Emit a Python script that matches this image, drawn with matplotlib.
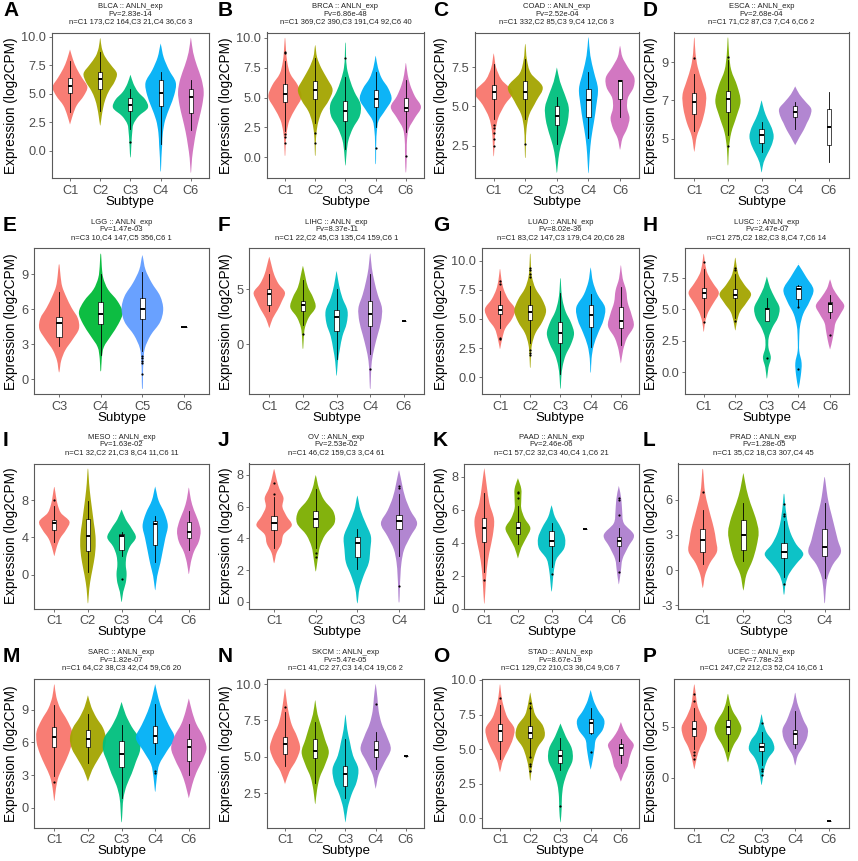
import numpy as np
from matplotlib import pyplot as plt
from matplotlib.path import Path
from matplotlib.patches import PathPatch

plt.rcParams["font.family"] = ["Liberation Sans", "DejaVu Sans"]

W, H = 858, 861

# ---- panel texts ----
letters = list("ABCDEFGHIJKLMNOP")
cancers = ["BLCA", "BRCA", "COAD", "ESCA", "LGG", "LIHC", "LUAD", "LUSC",
           "MESO", "OV", "PAAD", "PRAD", "SARC", "SKCM", "STAD", "UCEC"]
p_values = ["2.83e-14", "6.86e-48", "2.52e-04", "2.68e-04", "1.47e-03", "8.37e-11",
            "8.02e-36", "2.47e-07", "1.63e-02", "2.53e-02", "2.46e-06", "1.28e-05",
            "1.82e-07", "5.47e-05", "8.67e-19", "7.78e-23"]
n_labels = [
    "n=C1 173,C2 164,C3 21,C4 36,C6 3",
    "n=C1 369,C2 390,C3 191,C4 92,C6 40",
    "n=C1 332,C2 85,C3 9,C4 12,C6 3",
    "n=C1 71,C2 87,C3 7,C4 6,C6 2",
    "n=C3 10,C4 147,C5 356,C6 1",
    "n=C1 22,C2 45,C3 135,C4 159,C6 1",
    "n=C1 83,C2 147,C3 179,C4 20,C6 28",
    "n=C1 275,C2 182,C3 8,C4 7,C6 14",
    "n=C1 32,C2 21,C3 8,C4 11,C6 11",
    "n=C1 46,C2 159,C3 3,C4 61",
    "n=C1 57,C2 32,C3 40,C4 1,C6 21",
    "n=C1 35,C2 18,C3 307,C4 45",
    "n=C1 64,C2 38,C3 42,C4 59,C6 20",
    "n=C1 41,C2 27,C3 14,C4 19,C6 2",
    "n=C1 129,C2 210,C3 36,C4 9,C6 7",
    "n=C1 247,C2 212,C3 52,C4 16,C6 1",
]

sub5 = ["C1", "C2", "C3", "C4", "C6"]
sub4 = ["C1", "C2", "C3", "C4"]
sub_lgg = ["C3", "C4", "C5", "C6"]
subtypes = [sub5, sub5, sub5, sub5, sub_lgg, sub5, sub5, sub5,
            sub5, sub4, sub5, sub4, sub5, sub5, sub5, sub5]

y_ticks = [
    [0, 2.5, 5, 7.5, 10], [0, 2.5, 5, 7.5, 10], [2.5, 5, 7.5], [5, 7, 9],
    [0, 3, 6, 9], [0, 5], [0, 2.5, 5, 7.5, 10], [0, 2.5, 5, 7.5],
    [0, 4, 8], [0, 2, 4, 6, 8], [0, 2, 4, 6, 8], [-3, 0, 3, 6],
    [0, 3, 6, 9], [2.5, 5, 7.5, 10], [0, 2.5, 5, 7.5, 10], [0, 5],
]
y_tick_labels = [
    ["0.0", "2.5", "5.0", "7.5", "10.0"], ["0.0", "2.5", "5.0", "7.5", "10.0"],
    ["2.5", "5.0", "7.5"], ["5", "7", "9"],
    ["0", "3", "6", "9"], ["0", "5"], ["0.0", "2.5", "5.0", "7.5", "10.0"],
    ["0.0", "2.5", "5.0", "7.5"],
    ["0", "4", "8"], ["0", "2", "4", "6", "8"], ["0", "2", "4", "6", "8"],
    ["-3", "0", "3", "6"],
    ["0", "3", "6", "9"], ["2.5", "5.0", "7.5", "10.0"],
    ["0.0", "2.5", "5.0", "7.5", "10.0"], ["0", "5"],
]

# ggplot hue colours
RED = "#F8766D"
pal5 = [RED, "#A3A500", "#00BF7D", "#00B0F6", "#D070BE"]
pal4 = [RED, "#7CAE00", "#00BFC4", "#AE80CF"]
pal3 = [RED, "#00BA38", "#619CFF"]
colors = [pal5, pal5, pal5, pal4 + [None], pal3 + [None], pal4 + [None], pal5, pal5,
          pal5, pal4, [RED, "#7CAE00", "#00BFC4", None, "#AE80CF"], pal4,
          pal5, pal4 + [None], pal5, pal4 + [None]]

# ---- violins: (min, max), width profile (bottom -> top), box (whislo, q1, med, q3, whishi), outliers ----
blca_range = [(2.4, 8.8), (2.3, 9.8), (-0.5, 6.6), (-1.7, 9.3), (-1.8, 9.8)]
blca_width = [[0.02, 0.2, 0.45, 0.9, 1.15, 0.8, 0.45, 0.2, 0.02],
              [0.02, 0.1, 0.2, 0.35, 0.6, 0.95, 1.1, 0.7, 0.3, 0.1, 0.02],
              [0.02, 0.05, 0.08, 0.12, 0.2, 0.55, 1.15, 1.0, 0.5, 0.2, 0.02],
              [0.02, 0.05, 0.1, 0.15, 0.3, 0.6, 0.9, 1.0, 0.55, 0.2, 0.02],
              [0.02, 0.08, 0.2, 0.35, 0.55, 0.75, 0.85, 0.7, 0.4, 0.15, 0.02]]
blca_box = [(3.4, 5.1, 5.7, 6.4, 7.9), (3.5, 5.4, 6.3, 6.9, 8.7), (1.9, 3.5, 4.0, 4.6, 5.4),
            (0.6, 3.9, 5.05, 6.2, 6.9), (1.8, 3.3, 4.7, 5.4, 6.2)]
blca_out = [[], [], [0.75], [], []]

brca_range = [(0.2, 9.9), (0.2, 9.3), (-0.6, 9.5), (-0.5, 8.4), (-1.2, 7.8)]
brca_width = [[0.02, 0.05, 0.12, 0.3, 0.7, 1.1, 0.85, 0.35, 0.15, 0.07, 0.02],
              [0.02, 0.04, 0.08, 0.2, 0.45, 0.9, 1.15, 0.8, 0.4, 0.12, 0.02],
              [0.02, 0.08, 0.2, 0.5, 0.95, 1.0, 0.6, 0.3, 0.1, 0.04, 0.02],
              [0.02, 0.03, 0.04, 0.08, 0.2, 0.65, 1.05, 0.85, 0.4, 0.15, 0.02],
              [0.02, 0.05, 0.06, 0.08, 0.2, 0.6, 1.0, 0.6, 0.3, 0.12, 0.02]]
brca_box = [(2.2, 4.6, 5.3, 6.1, 8.1), (2.9, 4.9, 5.6, 6.4, 8.3), (0.7, 3.0, 3.9, 4.7, 6.7),
            (2.5, 4.2, 4.9, 5.6, 7.1), (2.1, 3.9, 4.15, 5.0, 6.5)]
brca_out = [[8.8, 8.7, 1.9, 1.7, 1.2], [2.0, 1.2], [8.3], [0.8], [0.1]]

coad_range = [(1.9, 8.3), (1.8, 8.9), (0.85, 7.4), (0.85, 9.3), (2.3, 8.8)]
coad_width = [[0.02, 0.06, 0.12, 0.3, 0.7, 1.2, 0.5, 0.15, 0.02],
              [0.02, 0.04, 0.08, 0.25, 0.7, 1.1, 0.35, 0.1, 0.02],
              [0.02, 0.1, 0.25, 0.5, 0.7, 0.75, 0.5, 0.2, 0.02],
              [0.02, 0.08, 0.18, 0.35, 0.5, 0.6, 0.35, 0.12, 0.02],
              [0.02, 0.15, 0.45, 0.6, 0.45, 0.5, 0.85, 0.9, 0.5, 0.15, 0.02]]
coad_box = [(4.2, 5.5, 5.95, 6.4, 7.7), (4.2, 5.5, 5.95, 6.6, 8.0), (2.6, 3.8, 4.4, 5.0, 5.6),
            (3.0, 4.3, 5.4, 6.1, 7.2), (4.3, 5.5, 6.65, 6.7, 6.7)]
coad_out = [[3.8, 3.6, 3.3, 2.9, 2.5], [2.6], [], [], []]

esca_range = [(4.4, 10.2), (3.7, 10.2), (3.3, 6.95), (4.7, 7.7), None]
esca_width = [[0.02, 0.15, 0.45, 0.65, 0.7, 0.45, 0.2, 0.07, 0.02],
              [0.02, 0.06, 0.2, 0.5, 0.75, 0.55, 0.2, 0.07, 0.02],
              [0.02, 0.12, 0.35, 0.6, 0.72, 0.6, 0.35, 0.15, 0.02],
              [0.02, 0.25, 0.5, 0.7, 0.9, 0.95, 0.6, 0.25, 0.02],
              None]
esca_box = [(5.4, 6.3, 6.9, 7.4, 8.4), (5.2, 6.4, 7.05, 7.5, 9.1), (4.3, 4.8, 5.2, 5.5, 5.9),
            (5.5, 6.15, 6.4, 6.7, 6.9), (3.8, 4.7, 5.6, 6.55, 7.45)]
esca_out = [[9.2], [9.25, 4.6], [], [], []]

lgg_range = [(0.7, 9.75), (0.8, 10.65), (-0.7, 10.5), None]
lgg_width = [[0.02, 0.1, 0.3, 0.65, 0.95, 0.9, 0.6, 0.35, 0.15, 0.07, 0.02],
             [0.02, 0.05, 0.15, 0.5, 0.85, 1.05, 0.8, 0.35, 0.12, 0.05, 0.02],
             [0.02, 0.03, 0.05, 0.12, 0.4, 0.85, 1.0, 0.85, 0.45, 0.15, 0.02],
             None]
lgg_box = [(2.9, 3.6, 4.8, 5.3, 7.5), (2.1, 4.7, 5.6, 6.6, 9.0), (2.4, 5.2, 6.05, 7.0, 9.2),
           (4.5, 4.5, 4.5, 4.5, 4.5)]
lgg_out = [[], [], [2.0, 1.8, 1.6, 1.4, 0.5], []]

lihc_range = [(1.56, 7.84), (-0.3, 7.0), (-2.7, 6.5), (-3.9, 8.1), None]
lihc_width = [[0.02, 0.2, 0.5, 0.75, 0.93, 0.55, 0.3, 0.15, 0.02],
              [0.02, 0.05, 0.12, 0.35, 0.75, 0.6, 0.3, 0.15, 0.02],
              [0.02, 0.08, 0.2, 0.35, 0.6, 0.65, 0.35, 0.15, 0.02],
              [0.02, 0.05, 0.1, 0.25, 0.45, 0.65, 0.7, 0.45, 0.25, 0.1, 0.02],
              None]
lihc_box = [(3.0, 3.6, 4.55, 5.0, 6.4), (1.8, 3.0, 3.6, 3.9, 5.8), (-1.3, 1.2, 2.5, 3.1, 5.0),
            (-0.9, 1.7, 2.8, 3.9, 6.4), (2.15, 2.15, 2.15, 2.15, 2.15)]
lihc_out = [[], [0.95], [], [-2.2], []]

luad_range = [(2.5, 9.2), (0.9, 10.5), (-0.9, 8.4), (0.5, 9.3), (1.3, 9.5)]
luad_width = [[0.02, 0.15, 0.35, 0.8, 1.0, 0.55, 0.25, 0.1, 0.02],
              [0.02, 0.05, 0.12, 0.35, 0.8, 1.05, 0.8, 0.35, 0.12, 0.05, 0.02],
              [0.02, 0.06, 0.15, 0.35, 0.7, 0.9, 0.7, 0.35, 0.15, 0.06, 0.02],
              [0.02, 0.06, 0.2, 0.5, 0.85, 0.95, 0.45, 0.15, 0.02],
              [0.02, 0.15, 0.4, 0.85, 0.7, 0.45, 0.35, 0.12, 0.02]]
luad_box = [(4.2, 5.4, 5.8, 6.2, 7.4), (2.9, 4.9, 5.6, 6.2, 7.8), (0.3, 2.9, 3.8, 4.7, 7.2),
            (2.6, 4.3, 5.3, 6.2, 7.1), (2.8, 4.2, 4.8, 6.0, 7.7)]
luad_out = [[8.3, 8.0, 3.4, 3.3], [9.4, 9.2, 8.9, 8.6, 2.3, 2.1, 1.9], [], [], []]

lusc_range = [(3.3, 9.3), (3.4, 9.0), (-0.4, 7.5), (-1.2, 8.5), (1.9, 7.3)]
lusc_width = [[0.02, 0.1, 0.3, 0.65, 0.96, 0.6, 0.25, 0.1, 0.02],
              [0.02, 0.12, 0.3, 0.7, 1.0, 0.6, 0.25, 0.1, 0.02],
              [0.02, 0.1, 0.25, 0.1, 0.12, 0.35, 0.7, 0.8, 0.5, 0.2, 0.02],
              [0.02, 0.15, 0.2, 0.05, 0.05, 0.1, 0.3, 0.7, 0.95, 0.5, 0.02],
              [0.02, 0.15, 0.25, 0.35, 0.65, 0.9, 0.55, 0.2, 0.02]]
lusc_box = [(4.4, 5.9, 6.25, 6.7, 8.2), (4.3, 5.85, 6.15, 6.6, 7.8), (4.1, 4.1, 5.0, 5.1, 5.9),
            (5.2, 5.8, 6.6, 6.8, 6.9), (4.3, 4.8, 5.4, 5.6, 6.1)]
lusc_out = [[8.7, 4.0], [8.3, 8.1, 4.1], [1.15], [5.2, 0.3], [3.0]]

meso_range = [(2.1, 9.3), (-2.9, 11.2), (-2.8, 6.9), (-1.5, 9.3), (0.2, 9.2)]
meso_width = [[0.02, 0.15, 0.35, 0.7, 0.9, 0.4, 0.2, 0.1, 0.02],
              [0.02, 0.08, 0.2, 0.35, 0.45, 0.45, 0.35, 0.25, 0.15, 0.07, 0.02],
              [0.02, 0.1, 0.25, 0.3, 0.25, 0.3, 0.5, 0.85, 0.6, 0.25, 0.02],
              [0.02, 0.12, 0.3, 0.45, 0.6, 0.75, 0.55, 0.2, 0.02],
              [0.02, 0.12, 0.3, 0.6, 0.7, 0.55, 0.3, 0.12, 0.02]]
meso_box = [(3.5, 4.8, 5.5, 5.9, 7.4), (0.3, 2.5, 4.1, 6.0, 7.9), (2.0, 2.7, 4.2, 4.4, 4.6),
            (1.4, 3.2, 5.4, 5.8, 6.3), (2.6, 3.9, 4.6, 5.7, 6.8)]
meso_out = [[8.0], [], [-0.5], [], []]

ov_range = [(2.5, 8.3), (2.0, 7.9), (0.0, 6.6), (0.05, 8.2)]
ov_width = [[0.02, 0.12, 0.35, 0.45, 0.85, 0.6, 0.4, 0.45, 0.25, 0.12, 0.02],
            [0.02, 0.1, 0.2, 0.45, 0.9, 0.85, 0.4, 0.15, 0.02],
            [0.02, 0.1, 0.3, 0.55, 0.62, 0.65, 0.4, 0.15, 0.02],
            [0.02, 0.04, 0.07, 0.12, 0.25, 0.55, 0.87, 0.55, 0.3, 0.15, 0.02]]
ov_box = [(3.4, 4.5, 5.0, 5.4, 6.6), (3.4, 4.7, 5.25, 5.7, 7.1), (2.1, 2.8, 3.7, 4.1, 4.6),
          (2.9, 4.6, 5.1, 5.5, 6.8)]
ov_out = [[7.5, 6.8], [3.1, 2.8], [], [7.3, 7.2, 1.0]]

paad_range = [(0.4, 8.4), (3.1, 7.85), (1.1, 6.2), None, (1.55, 7.35)]
paad_width = [[0.02, 0.08, 0.15, 0.3, 0.5, 0.58, 0.3, 0.15, 0.02],
              [0.02, 0.2, 0.5, 0.74, 0.4, 0.2, 0.2, 0.2, 0.02],
              [0.02, 0.08, 0.15, 0.3, 0.75, 0.8, 0.55, 0.2, 0.02],
              None,
              [0.02, 0.12, 0.22, 0.55, 0.9, 0.3, 0.2, 0.15, 0.02]]
paad_box = [(2.2, 4.05, 4.9, 5.5, 7.0), (3.9, 4.55, 4.9, 5.25, 6.2), (2.5, 3.8, 4.1, 4.7, 5.2),
            (4.85, 4.85, 4.85, 4.85, 4.85), (2.9, 3.8, 4.1, 4.35, 4.9)]
paad_out = [[1.7], [7.1, 7.0, 6.7], [2.1], [], [6.7, 6.6, 5.7, 2.2]]

prad_range = [(-1.4, 8.5), (-1.6, 8.1), (-2.0, 6.4), (-2.7, 7.8)]
prad_width = [[0.02, 0.12, 0.35, 0.7, 0.65, 0.55, 0.4, 0.25, 0.12, 0.06, 0.02],
              [0.02, 0.15, 0.45, 0.65, 0.75, 0.6, 0.35, 0.15, 0.02],
              [0.02, 0.08, 0.25, 0.6, 0.95, 0.6, 0.35, 0.2, 0.12, 0.06, 0.02],
              [0.02, 0.06, 0.15, 0.4, 0.8, 0.65, 0.5, 0.35, 0.2, 0.1, 0.02]]
prad_box = [(0.5, 1.5, 2.6, 3.5, 5.1), (0.8, 1.7, 3.0, 4.3, 5.7), (-0.6, 1.0, 1.55, 2.3, 4.2),
            (-0.7, 1.2, 2.0, 3.5, 5.7)]
prad_out = [[6.6], [], [5.6, 4.8, 4.6, -1.2], []]

sarc_range = [(0.75, 11.2), (2.5, 10.2), (-1.2, 9.6), (1.6, 11.2), (1.0, 9.9)]
sarc_width = [[0.02, 0.1, 0.25, 0.55, 0.85, 1.05, 1.05, 0.75, 0.35, 0.12, 0.02],
              [0.02, 0.25, 0.6, 0.95, 1.07, 0.9, 0.5, 0.2, 0.02],
              [0.02, 0.06, 0.12, 0.3, 0.6, 0.85, 1.1, 1.05, 0.6, 0.25, 0.02],
              [0.02, 0.1, 0.25, 0.7, 1.15, 0.8, 0.45, 0.2, 0.02],
              [0.02, 0.2, 0.45, 0.8, 1.05, 0.85, 0.45, 0.2, 0.02]]
sarc_box = [(2.9, 5.6, 6.5, 7.4, 9.4), (4.1, 5.6, 6.3, 7.1, 8.6), (0.9, 3.7, 4.9, 6.1, 7.6),
            (4.9, 5.9, 6.6, 7.5, 9.5), (3.0, 4.3, 5.6, 6.3, 7.7)]
sarc_out = [[2.4], [], [], [3.4, 3.2], []]

skcm_range = [(3.2, 9.6), (1.85, 8.8), (0.6, 7.8), (2.9, 9.9), None]
skcm_width = [[0.02, 0.3, 0.75, 1.0, 0.8, 0.45, 0.25, 0.12, 0.02],
              [0.02, 0.12, 0.3, 0.65, 0.9, 0.65, 0.4, 0.15, 0.02],
              [0.02, 0.15, 0.4, 0.75, 0.85, 0.5, 0.3, 0.12, 0.02],
              [0.02, 0.2, 0.6, 1.0, 0.75, 0.4, 0.2, 0.12, 0.02],
              None]
skcm_box = [(4.4, 5.2, 5.9, 6.4, 8.1), (3.2, 4.9, 5.4, 6.2, 7.4), (2.2, 3.0, 3.85, 4.4, 6.2),
            (4.2, 5.0, 5.5, 6.1, 6.7), (5.05, 5.05, 5.05, 5.05, 5.05)]
skcm_out = [[8.4], [], [], [8.6], [5.05]]

stad_range = [(3.4, 9.6), (2.8, 9.0), (-0.2, 6.8), (3.6, 9.2), (2.7, 6.9)]
stad_width = [[0.02, 0.2, 0.55, 0.85, 0.95, 0.5, 0.25, 0.1, 0.02],
              [0.02, 0.1, 0.25, 0.5, 0.95, 0.85, 0.35, 0.15, 0.02],
              [0.02, 0.08, 0.1, 0.2, 0.45, 0.8, 0.75, 0.35, 0.02],
              [0.02, 0.15, 0.25, 0.35, 0.8, 0.9, 0.5, 0.2, 0.02],
              [0.02, 0.2, 0.45, 0.55, 0.7, 0.85, 0.5, 0.2, 0.02]]
stad_box = [(4.3, 5.6, 6.3, 6.8, 8.2), (4.5, 5.8, 6.2, 6.7, 8.1), (3.5, 4.0, 4.5, 4.9, 5.8),
            (6.1, 6.2, 6.9, 7.2, 8.0), (4.0, 4.6, 5.1, 5.4, 5.7)]
stad_out = [[8.7], [8.3, 8.0, 4.4, 3.9, 3.8, 3.4], [0.85], [4.8], []]

ucec_range = [(0.95, 9.0), (1.6, 8.1), (-0.6, 6.1), (1.3, 8.2), None]
ucec_width = [[0.02, 0.15, 0.35, 0.65, 0.75, 0.45, 0.2, 0.1, 0.02],
              [0.02, 0.15, 0.35, 0.65, 0.8, 0.6, 0.3, 0.12, 0.02],
              [0.02, 0.1, 0.2, 0.4, 0.75, 0.65, 0.3, 0.12, 0.02],
              [0.02, 0.15, 0.45, 0.7, 0.75, 0.5, 0.3, 0.12, 0.02],
              None]
ucec_box = [(2.8, 4.1, 4.8, 5.5, 6.8), (2.6, 4.3, 5.0, 5.6, 7.0), (1.3, 2.6, 3.0, 3.4, 4.5),
            (2.9, 3.3, 4.3, 4.7, 6.5), (-4.2, -4.2, -4.2, -4.2, -4.2)]
ucec_out = [[8.2, 7.5, 2.5, 2.2, 1.8], [], [5.3, 0.9, 0.7, 0.3], [], []]

ranges = [blca_range, brca_range, coad_range, esca_range, lgg_range, lihc_range, luad_range,
          lusc_range, meso_range, ov_range, paad_range, prad_range, sarc_range, skcm_range,
          stad_range, ucec_range]
widths = [blca_width, brca_width, coad_width, esca_width, lgg_width, lihc_width, luad_width,
          lusc_width, meso_width, ov_width, paad_width, prad_width, sarc_width, skcm_width,
          stad_width, ucec_width]
boxes = [blca_box, brca_box, coad_box, esca_box, lgg_box, lihc_box, luad_box, lusc_box,
         meso_box, ov_box, paad_box, prad_box, sarc_box, skcm_box, stad_box, ucec_box]
outliers = [blca_out, brca_out, coad_out, esca_out, lgg_out, lihc_out, luad_out, lusc_out,
            meso_out, ov_out, paad_out, prad_out, sarc_out, skcm_out, stad_out, ucec_out]


def draw_violin(ax, x, lo, hi, prof, color):
    # 轮廓点之间用三次贝塞尔 (Catmull-Rom) 平滑连接，曲线经过每个读取点
    ys = np.linspace(lo, hi, len(prof))
    right = [(x + w / 2, y) for w, y in zip(prof, ys)]
    left = [(x - w / 2, y) for w, y in zip(prof, ys)][::-1]
    pts = np.array(right + left)
    n = len(pts)
    verts, codes = [pts[0]], [Path.MOVETO]
    for k in range(n):
        p0, p1, p2, p3 = pts[k - 1], pts[k], pts[(k + 1) % n], pts[(k + 2) % n]
        verts += [p1 + (p2 - p0) / 6, p2 - (p3 - p1) / 6, p2]
        codes += [Path.CURVE4] * 3
    verts.append(pts[0])
    codes.append(Path.CLOSEPOLY)
    ax.add_patch(PathPatch(Path(verts, codes), facecolor=color, edgecolor="none",
                           alpha=0.95, zorder=1))


fig = plt.figure(figsize=(W / 100, H / 100), dpi=100)
renderer = fig.canvas.get_renderer()


def text_width(s, size):
    t = fig.text(0, 0, s, fontsize=size)
    w = t.get_window_extent(renderer).width
    t.remove()
    return w


col_x = [0, 215, 430, 640]
row_top = [32.5, 33, 33, 33]
row_bot = [178, 179, 178, 182]
TICK_SIZE = 9.2
AX_GRAY = "#5a5a5a"

for i in range(16):
    r, c = divmod(i, 4)
    x0, y0 = col_x[c], r * 215.25
    top, bottom = y0 + row_top[r], y0 + row_bot[r]
    lab_w = max(text_width(s, TICK_SIZE) for s in y_tick_labels[i])
    left = x0 + 27 + lab_w
    right = x0 + 209
    ax = fig.add_axes([left / W, 1 - bottom / H, (right - left) / W, (bottom - top) / H])

    subs = subtypes[i]
    vals = []
    for k, sub in enumerate(subs):
        x = k + 1
        if ranges[i][k] is not None:
            lo, hi = ranges[i][k]
            draw_violin(ax, x, lo, hi, widths[i][k], colors[i][k])
            vals += [lo, hi]
        wl, q1, med, q3, wh = boxes[i][k]
        vals += [wl, wh] + list(outliers[i][k])
        ax.bxp([dict(whislo=wl, q1=q1, med=med, q3=q3, whishi=wh, fliers=outliers[i][k])],
               positions=[x], widths=0.13, patch_artist=True, showcaps=False,
               manage_ticks=False, zorder=3,
               boxprops=dict(facecolor="white", edgecolor="black", linewidth=0.5),
               medianprops=dict(color="black", linewidth=1.4),
               whiskerprops=dict(color="black", linewidth=0.6),
               flierprops=dict(marker="o", markersize=1.6, markerfacecolor="black",
                               markeredgecolor="none"))

    vmin, vmax = min(vals), max(vals)
    pad = (vmax - vmin) * 0.05
    ax.set_ylim(vmin - pad, vmax + pad)
    ax.set_xlim(0.4, len(subs) + 0.6)
    ax.set_xticks(range(1, len(subs) + 1))
    ax.set_xticklabels(subs)
    ax.set_yticks(y_ticks[i])
    ax.set_yticklabels(y_tick_labels[i])
    ax.tick_params(axis="both", length=2.2, width=0.6, color=AX_GRAY,
                   labelcolor="#4d4d4d", labelsize=TICK_SIZE)
    ax.tick_params(axis="x", pad=2.5)
    ax.tick_params(axis="y", pad=2)
    for sp in ax.spines.values():
        sp.set_color(AX_GRAY)
        sp.set_linewidth(0.8)

    ax.set_ylabel("Expression (log2CPM)", fontsize=9.8)
    ax.yaxis.label.set_va("center")
    ax.yaxis.set_label_coords((x0 + 11 - left) / (right - left), 0.5)
    ax.set_xlabel("Subtype", fontsize=9.6)
    ax.xaxis.label.set_va("center")
    ax.xaxis.set_label_coords(0.5, -23.5 / (bottom - top))

    # 标题与面板字母
    cx = (left + right) / 2 / W
    fig.text(cx, 1 - (y0 + 7) / H, f"{cancers[i]} :: ANLN_exp", fontsize=5.5,
             ha="center", va="center", color="#222222")
    fig.text(cx, 1 - (y0 + 14.5) / H, f"Pv={p_values[i]}", fontsize=5.5,
             ha="center", va="center", color="#222222")
    fig.text(cx, 1 - (y0 + 22) / H, n_labels[i], fontsize=5.5,
             ha="center", va="center", color="#222222")
    fig.text((x0 + 3) / W, 1 - (y0 + 1) / H, letters[i], fontsize=15,
             fontweight="bold", ha="left", va="top")

fig.savefig("out.png", dpi=100)
